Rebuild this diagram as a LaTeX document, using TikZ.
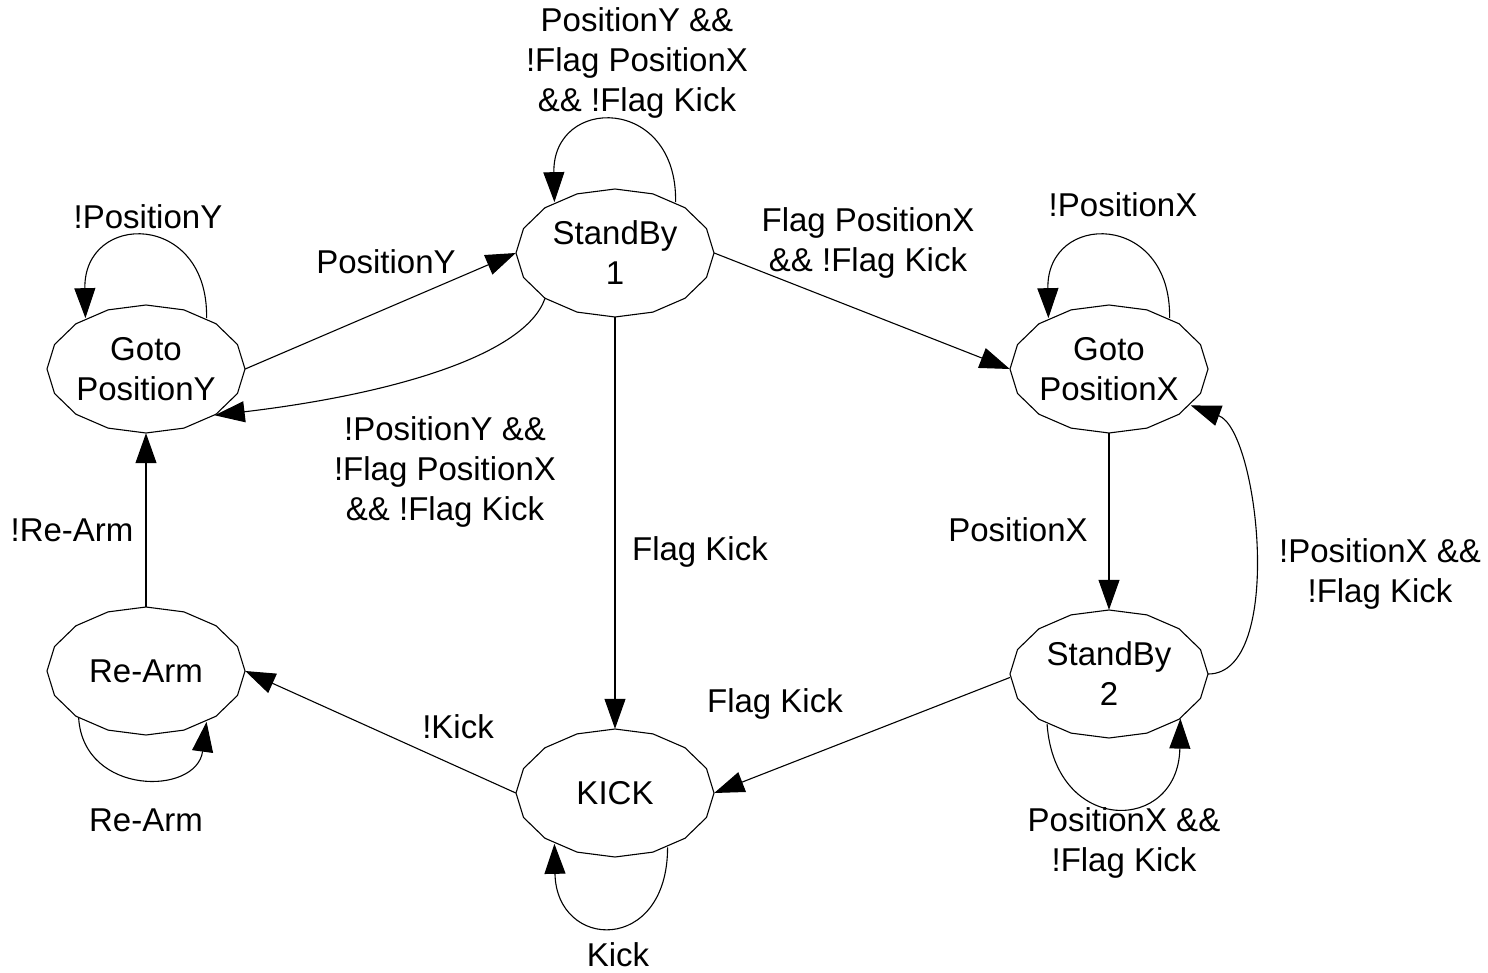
\documentclass[tikz,border=0pt]{standalone}
\usepackage{fontspec}
\setmainfont{Liberation Sans}
\usetikzlibrary{arrows.meta,calc,shapes.geometric}

% state outline: a 16-sided polygon inscribed in the node's ellipse
\newcommand\rimpoly[1]{%
  \draw[rim] ($(#1)+(99,0)$)
    \foreach \k in {1,...,15}{ -- ($(#1)+({99*cos(22.5*\k)},{64*sin(22.5*\k)})$) } -- cycle;}

\begin{document}
\begin{tikzpicture}[x=1pt,y=-1pt,
  every node/.style={font=\fontsize{33}{40}\selectfont},
  state/.style={shape=ellipse, minimum width=198pt, minimum height=128pt,
                inner sep=0pt, align=center},
  lbl/.style={align=center, inner sep=0pt},
  rim/.style={line width=1.1pt, line join=round},
  edge/.style={line width=1.1pt, -{Triangle[length=30pt,width=21pt]}}]
\useasboundingbox[fill=white] (0,0) rectangle (1488,973);

% states
\node[state] (sb1)   at (615,253)  {StandBy\\1};
\node[state] (gpy)   at (146,369)  {Goto\\PositionY};
\node[state] (gpx)   at (1109,369) {Goto\\PositionX};
\node[state] (sb2)   at (1109,674) {StandBy\\2};
\node[state] (kick)  at (615,793)  {KICK};
\node[state] (rearm) at (146,671)  {Re-Arm};
\foreach \s in {sb1,gpy,gpx,sb2,kick,rearm} {\rimpoly{\s}}

% transitions
\draw[edge] (gpy.east) -- (sb1.west);
\draw[edge] (sb1.east) -- (gpx.west);
\draw[edge] (sb1.south) -- (kick.north);
\draw[edge] (gpx.south) -- (sb2.north);
\draw[edge] (sb2.182) -- (kick.east);
\draw[edge] (kick.west) -- (rearm.east);
\draw[edge] (rearm.north) -- (gpy.south);
\draw[edge] (sb1.213) .. controls +(-20,57) and +(177,-21) .. (gpy.-34);
\draw[edge] (sb2.east) .. controls +(77,0) and +(68,25) .. (gpx.-24);

% self loops
\draw[edge] (sb1.40) .. controls +(2,-107) and +(-2,-107) .. (sb1.140);
\draw[edge] (gpy.40) .. controls +(2,-107) and +(-2,-107) .. (gpy.140);
\draw[edge] (gpx.40) .. controls +(2,-107) and +(-2,-107) .. (gpx.140);
\draw[edge] (kick.-46) .. controls +(0,107) and +(2,107) .. (kick.-140);
\draw[edge] (sb2.-141) .. controls +(8,112) and +(-2,115) .. (sb2.-32);
\draw[edge] (rearm.-145) .. controls +(5,78) and +(-10,74) .. (rearm.-40);

% transition labels
\node[lbl] (t1)  at (637,63)   {PositionY \&\&\\!Flag PositionX\\\&\& !Flag Kick};
\node[lbl] (t2)  at (148,217)  {!PositionY};
\node[lbl] (t3)  at (386,262)  {PositionY};
\node[lbl] (t4)  at (868,243)  {Flag PositionX\\\&\& !Flag Kick};
\node[lbl] (t5)  at (1123,205) {!PositionX};
\node[lbl] (t6)  at (445,472)  {!PositionY \&\&\\!Flag PositionX\\\&\& !Flag Kick};
\node[lbl] (t7)  at (72,530)   {!Re-Arm};
\node[lbl] (t8)  at (700,552)  {Flag Kick};
\node[lbl] (t9)  at (1018,530) {PositionX};
\node[lbl] (t10) at (1380,574) {!PositionX \&\&\\!Flag Kick};
\node[lbl] (t11) at (775,704)  {Flag Kick};
\node[lbl] (t12) at (458,727)  {!Kick};
\node[lbl] (t13) at (146,820)  {Re-Arm};
\node[lbl] (t14) at (1124,843) {PositionX \&\&\\!Flag Kick};
\node[lbl] (t15) at (618,955)  {Kick};
\end{tikzpicture}
\end{document}
